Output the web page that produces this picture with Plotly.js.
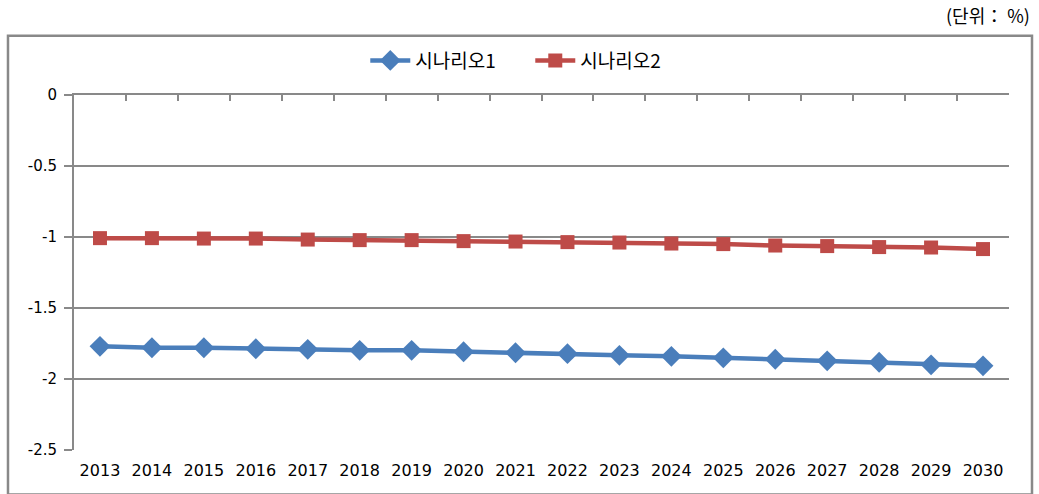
<!DOCTYPE html>
<html>
<head>
<meta charset="utf-8">
<script src="https://cdn.plot.ly/plotly-3.0.1.min.js"></script>
<style>html,body{margin:0;padding:0;background:#fff;}#chart{width:1039px;height:494px;}</style>
</head>
<body>
<div id="chart"></div>
<script>
const years = ["2013","2014","2015","2016","2017","2018","2019","2020","2021","2022","2023","2024","2025","2026","2027","2028","2029","2030"];
const scenario1 = [-1.770,-1.780,-1.780,-1.787,-1.791,-1.798,-1.798,-1.808,-1.815,-1.822,-1.833,-1.840,-1.851,-1.861,-1.872,-1.882,-1.900,-1.907];
const scenario2 = [-1.008,-1.008,-1.011,-1.011,-1.018,-1.022,-1.022,-1.029,-1.032,-1.036,-1.039,-1.046,-1.050,-1.060,-1.064,-1.071,-1.074,-1.085];
const seriesNames = ["시나리오1","시나리오2"];
const yTicks = [0,-0.5,-1,-1.5,-2,-2.5];

const gray = "#898989";
const traces = [
  {x: years, y: scenario1, name: seriesNames[0], type: "scatter", mode: "lines+markers",
   line: {color: "#4a7ebb", width: 4.5}, marker: {symbol: "diamond", size: 16, color: "#4a7ebb"}},
  {x: years, y: scenario2, name: seriesNames[1], type: "scatter", mode: "lines+markers",
   line: {color: "#be4b48", width: 4.5}, marker: {symbol: "square", size: 14, color: "#be4b48"}},
  {x: years, y: scenario1, xaxis: "x2", type: "scatter", mode: "markers", showlegend: false,
   hoverinfo: "skip", opacity: 0, marker: {size: 1}}
];

const layout = {
  width: 1039, height: 494,
  margin: {l: 74, r: 30, t: 95, b: 44},
  paper_bgcolor: "#fff", plot_bgcolor: "#fff",
  font: {family: "DejaVu Sans, Verdana, sans-serif", size: 15, color: "#000"},
  showlegend: true,
  legend: {orientation: "h", x: 0.488, xanchor: "center", y: 1.097, yanchor: "middle",
    font: {family: "Noto Sans CJK KR, sans-serif", size: 19}, itemwidth: 40,
    entrywidth: 110, entrywidthmode: "pixels", bgcolor: "rgba(0,0,0,0)"},
  xaxis: {type: "category", categoryorder: "array", categoryarray: years, range: [-0.5, 17.5],
    showgrid: false, zeroline: false, showline: false, ticks: "", ticklen: 0, ticklabelstandoff: 9,
    tickfont: {family: "DejaVu Sans, Verdana, sans-serif", size: 16}, fixedrange: true},
  xaxis2: {type: "category", categoryorder: "array", categoryarray: years, range: [-0.5, 17.5],
    overlaying: "x", side: "top", anchor: "y", showgrid: false, zeroline: false,
    showline: true, linecolor: gray, linewidth: 2,
    showticklabels: false, ticks: "inside", ticklen: 6, tickwidth: 2, tickcolor: gray,
    tickson: "boundaries", fixedrange: true},
  yaxis: {range: [-2.5, 0], tickvals: yTicks, ticktext: yTicks.map(String),
    showgrid: true, gridcolor: gray, gridwidth: 2, zeroline: false,
    showline: true, linecolor: gray, linewidth: 2, mirror: false,
    ticks: "outside", ticklen: 8, tickwidth: 2, tickcolor: gray, ticklabelstandoff: 4,
    tickfont: {family: "DejaVu Sans, Verdana, sans-serif", size: 15}, fixedrange: true},
  shapes: [
    {type: "rect", xref: "paper", yref: "paper", x0: -0.0706, x1: 1.0246, y0: -0.125, y1: 1.167,
     line: {color: gray, width: 2.5}, fillcolor: "rgba(0,0,0,0)", layer: "below"}
  ],
  annotations: [
    {xref: "paper", yref: "paper", x: 1.0246, y: 1.226, xanchor: "right", yanchor: "middle",
     text: "(단위： %)", showarrow: false, font: {family: "Noto Sans CJK KR, serif", size: 18, color: "#000"}}
  ]
};

Plotly.newPlot("chart", traces, layout, {displayModeBar: false, staticPlot: true});
</script>
</body>
</html>
